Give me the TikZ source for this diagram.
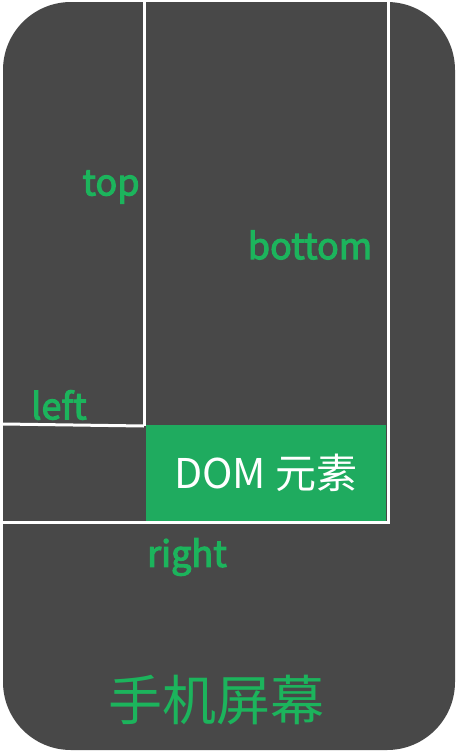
\documentclass[tikz,border=0pt]{standalone}
\usepackage{fontspec}
\setmainfont{Noto Sans CJK SC}
\newfontfamily\medfont[FakeBold=3]{Noto Sans CJK SC}
\definecolor{screen}{RGB}{72,72,72}
\definecolor{domgreen}{RGB}{31,171,95}
\definecolor{labelgreen}{RGB}{28,180,92}
\tikzset{
  wline/.style={draw=white, line width=3pt},
  lbl/.style={text=labelgreen, font=\medfont\fontsize{36}{40}\selectfont, inner sep=0pt},
}
\begin{document}
\begin{tikzpicture}[x=1pt,y=-1pt]
\useasboundingbox (0,0) rectangle (457,753);
\fill[white] (0,0) rectangle (457,753);
\fill[screen, rounded corners=68pt] (3,2) rectangle (455,750);
% boxes
\node[fill=domgreen, minimum width=240pt, minimum height=96pt, inner sep=0pt, anchor=north west, text=white, font=\fontsize{41}{45}\selectfont] (dom) at (145.5,424.5) {DOM 元素};
\coordinate (tl) at (144,0);
\coordinate (tr) at (388,0);
\coordinate (br) at (388,522);
\coordinate (bl) at (3,522);
\coordinate (ml) at (3,424);
\coordinate (mr) at (144,426);
\draw[wline] (tl) -- (mr);
\draw[wline] (ml) -- (mr);
\draw[wline] (tr) -- (br) -- (bl);
% labels
\node[lbl] (top) at (111,187) {top};
\node[lbl] (bottom) at (310,245) {bottom};
\node[lbl] (left) at (59,405) {left};
\node[lbl] (right) at (187,557) {right};
\node[text=labelgreen, font=\fontsize{54}{60}\selectfont, inner sep=0pt] (screen) at (216,700) {手机屏幕};
\end{tikzpicture}
\end{document}
